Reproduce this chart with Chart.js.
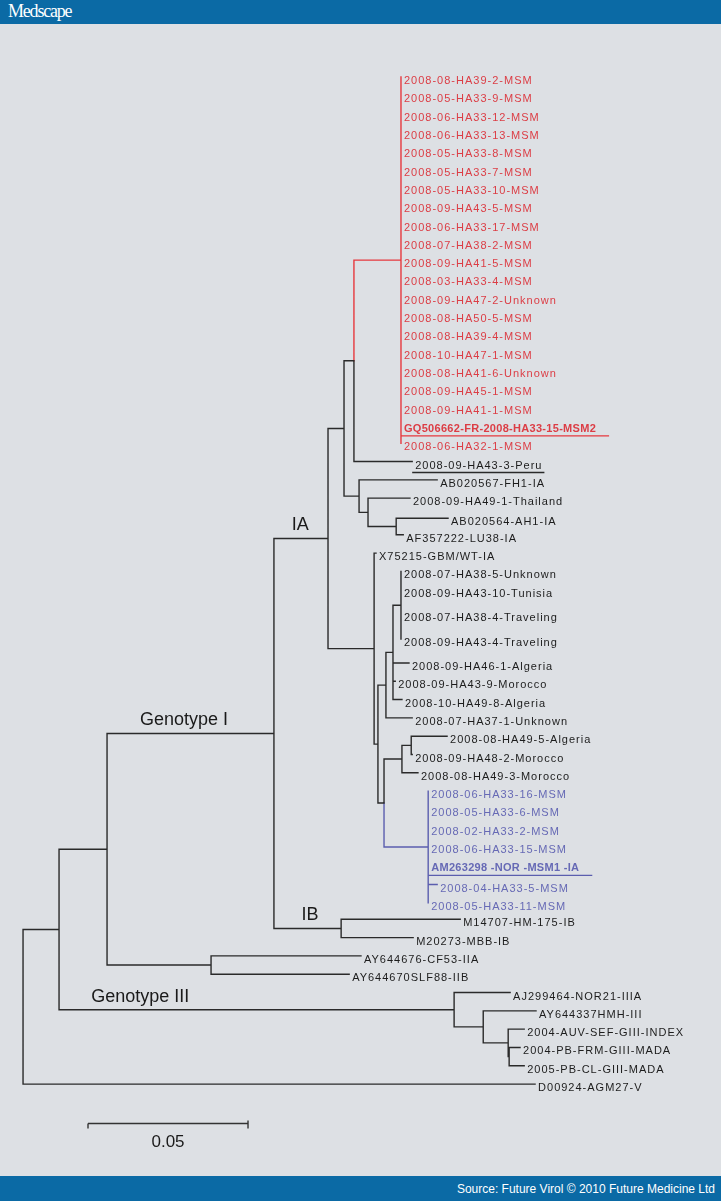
<!DOCTYPE html>
<html>
<head>
<meta charset="utf-8">
<script src="https://cdn.jsdelivr.net/npm/chart.js@4.4.0/dist/chart.umd.min.js"></script>
<style>
  html, body { margin: 0; padding: 0; }
  body { width: 721px; height: 1201px; background: #dde0e4; position: relative; overflow: hidden;
         font-family: "Liberation Sans", Arial, sans-serif; }
  #header { position: absolute; left: 0; top: 0; width: 721px; height: 24px; background: #0b6aa5; }
  #header span { position: absolute; left: 8px; top: 1px; color: #fff; font-family: "Liberation Serif", serif;
                 font-size: 18px; letter-spacing: -1.2px; }
  #footer { position: absolute; left: 0; top: 1176px; width: 721px; height: 25px; background: #0b6aa5; }
  #footer span { position: absolute; right: 6px; top: 6px; color: #fff; font-size: 12px; }
  #tree { position: absolute; left: 0; top: 24px; }
</style>
</head>
<body>
<div id="header"><span>Medscape</span></div>
<canvas id="tree" width="721" height="1152"></canvas>
<div id="footer"><span>Source: Future Virol © 2010 Future Medicine Ltd</span></div>
<script>
// Leaves (top to bottom): name, row on the tree, distance from root, clade colour
const leafNames = [
  '2008-08-HA39-2-MSM', '2008-05-HA33-9-MSM', '2008-06-HA33-12-MSM', '2008-06-HA33-13-MSM',
  '2008-05-HA33-8-MSM', '2008-05-HA33-7-MSM', '2008-05-HA33-10-MSM', '2008-09-HA43-5-MSM',
  '2008-06-HA33-17-MSM', '2008-07-HA38-2-MSM', '2008-09-HA41-5-MSM', '2008-03-HA33-4-MSM',
  '2008-09-HA47-2-Unknown', '2008-08-HA50-5-MSM', '2008-08-HA39-4-MSM', '2008-10-HA47-1-MSM',
  '2008-08-HA41-6-Unknown', '2008-09-HA45-1-MSM', '2008-09-HA41-1-MSM',
  'GQ506662-FR-2008-HA33-15-MSM2', '2008-06-HA32-1-MSM',
  '2008-09-HA43-3-Peru', 'AB020567-FH1-IA', '2008-09-HA49-1-Thailand', 'AB020564-AH1-IA',
  'AF357222-LU38-IA', 'X75215-GBM/WT-IA', '2008-07-HA38-5-Unknown', '2008-09-HA43-10-Tunisia',
  '2008-07-HA38-4-Traveling', '2008-09-HA43-4-Traveling', '2008-09-HA46-1-Algeria',
  '2008-09-HA43-9-Morocco', '2008-10-HA49-8-Algeria', '2008-07-HA37-1-Unknown',
  '2008-08-HA49-5-Algeria', '2008-09-HA48-2-Morocco', '2008-08-HA49-3-Morocco',
  '2008-06-HA33-16-MSM', '2008-05-HA33-6-MSM', '2008-02-HA33-2-MSM', '2008-06-HA33-15-MSM',
  'AM263298 -NOR -MSM1 -IA', '2008-04-HA33-5-MSM', '2008-05-HA33-11-MSM',
  'M14707-HM-175-IB', 'M20273-MBB-IB', 'AY644676-CF53-IIA', 'AY644670SLF88-IIB',
  'AJ299464-NOR21-IIIA', 'AY644337HMH-III', '2004-AUV-SEF-GIII-INDEX', '2004-PB-FRM-GIII-MADA',
  '2005-PB-CL-GIII-MADA', 'D00924-AGM27-V'
];
const leafRows = [
  0, 1, 2, 3, 4, 5, 6, 7, 8, 9, 10, 11, 12, 13, 14, 15, 16, 17, 18, 19, 20,
  21, 22, 23, 24.1, 25, 26, 27, 28, 29.3, 30.7, 32, 33, 34, 35, 36, 37, 38,
  39, 40, 41, 42, 43, 44.1, 45.1, 46, 47, 48, 49, 50, 51, 52, 53, 54, 55
];
const leafDepth = [
  0.1181, 0.1181, 0.1181, 0.1181, 0.1181, 0.1181, 0.1181, 0.1181, 0.1181, 0.1181, 0.1181,
  0.1181, 0.1181, 0.1181, 0.1181, 0.1181, 0.1181, 0.1181, 0.1181, 0.1181, 0.1181,
  0.1216, 0.1294, 0.1209, 0.1328, 0.1188, 0.1103, 0.1181, 0.1181, 0.1181, 0.1181, 0.1206,
  0.1163, 0.1184, 0.1216, 0.1325, 0.1216, 0.1234,
  0.1266, 0.1266, 0.1266, 0.1266, 0.1266, 0.1294, 0.1266,
  0.1366, 0.1219, 0.1056, 0.1019, 0.1522, 0.1603, 0.1566, 0.1553, 0.1566, 0.1600
];
const leafClade = [
  'r', 'r', 'r', 'r', 'r', 'r', 'r', 'r', 'r', 'r', 'r', 'r', 'r', 'r', 'r', 'r', 'r', 'r', 'r', 'r', 'r',
  'k', 'k', 'k', 'k', 'k', 'k', 'k', 'k', 'k', 'k', 'k', 'k', 'k', 'k', 'k', 'k', 'k',
  'b', 'b', 'b', 'b', 'b', 'b', 'b',
  'k', 'k', 'k', 'k', 'k', 'k', 'k', 'k', 'k', 'k'
];

// Internal nodes: id, distance from root, children (numbers = leaves, strings = nodes)
const nodeIds = ['root', 'gA', 'gI_II', 'gI', 'IA', 'IAup', 'redPeru', 'red', 'ABgrp', 'thaiGrp',
  'ab64', 'IAlow', 'n378', 'n386', 'n393', 'trav', 'n384', 'mor', 'alg', 'blue', 'IB', 'gII',
  'gIII', 'g3a', 'g3b', 'g3c'];
const nodeDepth = [0, 0.01125, 0.02625, 0.0784, 0.0953, 0.1003, 0.1034, 0.1181, 0.105, 0.1078,
  0.1166, 0.1097, 0.1109, 0.1134, 0.1156, 0.1181, 0.1128, 0.1184, 0.1213, 0.1266, 0.0994, 0.05875,
  0.1347, 0.1438, 0.1516, 0.1519];
const nodeChildren = [
  ['gA', 54], ['gI_II', 'gIII'], ['gI', 'gII'], ['IA', 'IB'], ['IAup', 'IAlow'],
  ['redPeru', 'ABgrp'], ['red', 21],
  [0, 1, 2, 3, 4, 5, 6, 7, 8, 9, 10, 11, 12, 13, 14, 15, 16, 17, 18, 19, 20],
  [22, 'thaiGrp'], [23, 'ab64'], [24, 25], [26, 'n378'], ['n386', 'n384'], ['n393', 34],
  ['trav', 31, 32, 33], [27, 28, 29, 30], ['mor', 'blue'], ['alg', 37], [35, 36],
  [38, 39, 40, 41, 42, 43, 44], [45, 46], [47, 48], [49, 'g3a'], [50, 'g3b'], [51, 'g3c'], [52, 53]
];

// Clade names written over their branches
const cladeNames = ['Genotype I', 'IA', 'IB', 'Genotype III'];
const cladeNodes = ['gI', 'IA', 'IB', 'gIII'];
const cladeLabelX = [0.0503, 0.0866, 0.0897, 0.0366];

// Scale bar
const scaleBarStart = 0.0203;
const scaleBarLength = 0.05;
const scaleBarRow = 57.15;
const scaleBarLabel = '0.05';

const underlinedLeaves = [19, 21, 42];
const boldLeaves = [19, 42];

const lineColors = { k: '#2a2a2a', r: '#e6393e', b: '#5b5eae' };
const textColors = { k: '#1c1c1c', r: '#dc3d45', b: '#6669b5' };
const FONT = '"Liberation Sans", Arial, sans-serif';

function nodeIndex(id) { return nodeIds.indexOf(id); }
function rowOf(c) {
  if (typeof c === 'number') return leafRows[c];
  const kids = nodeChildren[nodeIndex(c)];
  return (rowOf(kids[0]) + rowOf(kids[kids.length - 1])) / 2;
}
function depthOf(c) {
  return typeof c === 'number' ? leafDepth[c] : nodeDepth[nodeIndex(c)];
}
function cladeOf(c) {
  if (typeof c === 'number') return leafClade[c];
  const set = new Set(nodeChildren[nodeIndex(c)].map(cladeOf));
  return set.size === 1 ? [...set][0] : 'k';
}

// Build branch paths per colour, split by null gaps
const paths = { k: [], r: [], b: [] };
nodeIds.forEach((id, i) => {
  const nx = nodeDepth[i];
  const ny = rowOf(id);
  nodeChildren[i].forEach(child => {
    const cy = rowOf(child);
    const p = paths[cladeOf(child)];
    p.push({ x: nx, y: ny }, { x: nx, y: cy }, { x: depthOf(child), y: cy }, { x: nx, y: null });
  });
});

const datasets = Object.keys(paths).map(key => ({
  data: paths[key],
  borderColor: lineColors[key],
  borderWidth: 1.4,
  borderCapStyle: 'square',
  pointRadius: 0,
  showLine: true,
  spanGaps: false,
  tension: 0
}));
datasets.push({
  data: [{ x: scaleBarStart, y: scaleBarRow }, { x: scaleBarStart + scaleBarLength, y: scaleBarRow }],
  borderColor: '#333',
  borderWidth: 1.4,
  pointRadius: 0,
  showLine: true
});

// Labels, underlines and scale bar text
const treeLabels = {
  id: 'treeLabels',
  afterDatasetsDraw(chart) {
    const { ctx, scales: { x, y } } = chart;
    ctx.save();
    ctx.textBaseline = 'middle';
    ctx.textAlign = 'left';
    leafNames.forEach((name, i) => {
      const bold = boldLeaves.includes(i);
      ctx.font = (bold ? 'bold ' : '') + '11px ' + FONT;
      ctx.letterSpacing = bold ? '0.3px' : '1px';
      ctx.fillStyle = textColors[leafClade[i]];
      const px = x.getPixelForValue(leafDepth[i]) + 3;
      const py = y.getPixelForValue(leafRows[i]) + 4;
      ctx.fillText(name, px, py);
      if (underlinedLeaves.includes(i)) {
        const w = ctx.measureText(name).width;
        ctx.strokeStyle = lineColors[leafClade[i]];
        ctx.lineWidth = 1.4;
        ctx.beginPath();
        ctx.moveTo(px - 3, py + 7);
        ctx.lineTo(px + w + (bold ? 13 : 2), py + 7);
        ctx.stroke();
      }
    });
    ctx.letterSpacing = '0px';

    // clade names
    ctx.font = '18px ' + FONT;
    ctx.fillStyle = '#1a1a1a';
    ctx.textAlign = 'center';
    cladeNames.forEach((name, i) => {
      ctx.fillText(name, x.getPixelForValue(cladeLabelX[i]), y.getPixelForValue(rowOf(cladeNodes[i])) - 13);
    });

    // scale bar end ticks and label
    const x0 = x.getPixelForValue(scaleBarStart);
    const x1 = x.getPixelForValue(scaleBarStart + scaleBarLength);
    const by = y.getPixelForValue(scaleBarRow);
    ctx.strokeStyle = '#333';
    ctx.lineWidth = 1.4;
    ctx.beginPath();
    ctx.moveTo(x0, by); ctx.lineTo(x0, by + 5);
    ctx.moveTo(x1, by - 3); ctx.lineTo(x1, by + 5);
    ctx.stroke();
    ctx.font = '17px ' + FONT;
    ctx.fillText(scaleBarLabel, (x0 + x1) / 2, by + 19);
    ctx.restore();
  }
};

new Chart(document.getElementById('tree'), {
  type: 'scatter',
  data: { datasets },
  options: {
    responsive: false,
    animation: false,
    devicePixelRatio: 1,
    layout: { padding: 0 },
    plugins: { legend: { display: false }, tooltip: { enabled: false } },
    scales: {
      x: { type: 'linear', display: false, min: -0.0072, max: 0.2181 },
      y: { type: 'linear', display: false, reverse: true, min: -2.895, max: 60.02 }
    }
  },
  plugins: [treeLabels]
});
</script>
</body>
</html>
